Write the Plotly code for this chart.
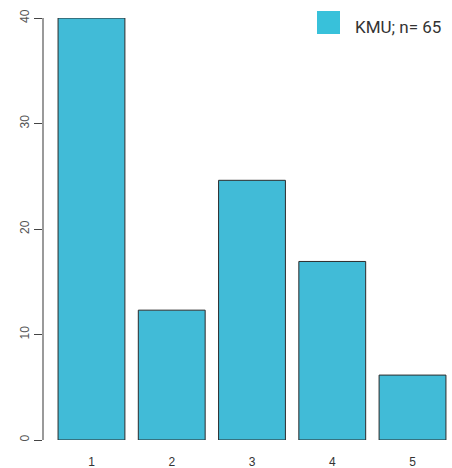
import plotly.graph_objects as go

# counts per answer category, shown as percent of n
categories = [1, 2, 3, 4, 5]
counts = [26, 8, 16, 11, 4]
n_total = 65
percent = [c / n_total * 100 for c in counts]
y_ticks = [0, 10, 20, 30, 40]
legend_label = "KMU; n= 65"

bar_color = "#41BBD7"

fig = go.Figure()
fig.add_trace(go.Bar(
    x=categories, y=percent,
    marker=dict(color=bar_color, line=dict(color="#2b2b2b", width=1)),
    width=0.833, showlegend=False,
))

fig.update_layout(
    width=452, height=468,
    margin=dict(l=43, r=0, t=18, b=28),
    plot_bgcolor="white", paper_bgcolor="white",
    font=dict(family="Liberation Sans, Arial", size=12, color="#444"),
    xaxis=dict(
        range=[0.396, 5.492], tickvals=categories,
        ticktext=[str(c) for c in categories], automargin=False,
        showgrid=False, zeroline=False, showline=False, ticks="",
        ticklabelstandoff=13, tickfont=dict(size=12, color="#333"),
    ),
    yaxis=dict(
        range=[0, 40], tickvals=y_ticks, showgrid=False, zeroline=False,
        showline=False, ticks="outside", ticklen=8, tickcolor="#444",
        tickangle=-90, tickfont=dict(size=12, color="#555"), automargin=False,
    ),
)

# R-style y axis line spanning the tick range
fig.add_shape(type="line", xref="paper", yref="y", x0=0, x1=0, y0=0, y1=40,
              line=dict(color="#9a9a9a", width=2))

# legend box and label
fig.add_shape(type="rect", xref="paper", yref="paper",
              x0=(317 - 43) / 409, x1=(340 - 43) / 409,
              y0=(440 - 34) / 422, y1=(440 - 11) / 422,
              fillcolor="#38C1DA", line=dict(width=0))
fig.add_annotation(xref="paper", yref="paper", x=(353 - 43) / 409,
                   y=(440 - 27) / 422, text=legend_label, showarrow=False,
                   xanchor="left", yanchor="middle",
                   font=dict(family="Roboto", size=17, color="#333"))

fig.write_html("out.html", config={"displayModeBar": False},
               post_script="document.body.style.margin='0';")
